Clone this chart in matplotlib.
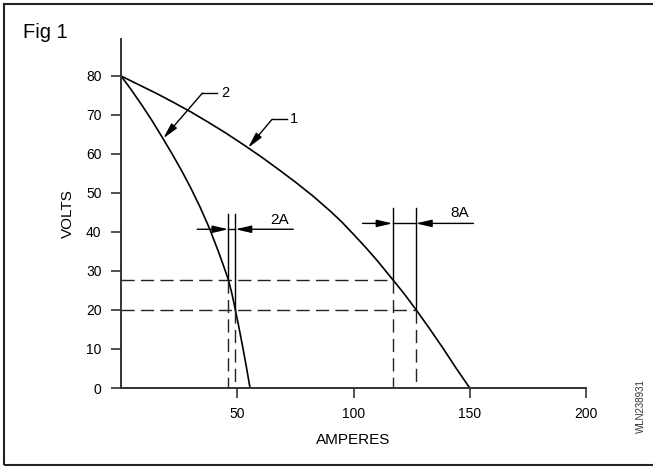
import matplotlib.pyplot as plt
from matplotlib.patches import Rectangle

plt.rcParams['font.family'] = ['Liberation Sans', 'DejaVu Sans']

# curve 1 (gentle droop) and curve 2 (steep droop)
amps_1 = [0, 7.5, 15, 22.5, 30, 37.5, 45, 52.5, 60, 67.5, 75, 82.5, 90, 95,
          100, 105, 110, 117, 122, 127, 132.5, 138.5, 144, 150]
volts_1 = [80, 77.8, 75.6, 73.25, 70.8, 68.15, 65.4, 62.45, 59.4, 56.15, 52.8,
           49.25, 45.35, 42.55, 39.4, 36.2, 32.8, 27.7, 24, 20, 15.4, 10.2,
           5.2, 0]
amps_2 = [0, 4, 9, 13.5, 18, 22, 26, 30, 34, 38, 42, 44, 46.2, 47.7, 49.2,
          50.7, 52.2, 53.9, 55.5]
volts_2 = [80, 76.8, 72.5, 68.4, 64, 60, 55.8, 51.3, 46.4, 41, 34.8, 31.5,
           27.7, 24.2, 20, 15.6, 11, 5.5, 0]

# operating voltages (dashed) and the current pairs they give
v_levels = [27.7, 20]
pair_2 = [46.2, 49.2]
pair_1 = [116.8, 126.8]
pair_tops = [44.6, 46.1]
dim_y = [40.7, 42.2]
dim_ends = [(32.8, 74.1), (103.9, 151.6)]
dim_labels = ['2A', '8A']
dim_label_pos = [(68.0, 43.1), (145.6, 44.9)]

# curve labels: (text, tip on curve, elbow, end of shelf, text x)
curve_tags = [('1', (54.7, 61.6), (65.0, 68.9), (71.2, 68.9), 72.8),
              ('2', (18.2, 64.0), (35.0, 75.6), (41.4, 75.6), 43.0)]

x_ticks = [50, 100, 150, 200]
y_ticks = [0, 10, 20, 30, 40, 50, 60, 70, 80]

fig = plt.figure(figsize=(6.53, 4.66), dpi=100)
ax = fig.add_axes([121 / 653, 78 / 466, 465 / 653, 348.7 / 466])

ax.plot(amps_1, volts_1, color='black', lw=1.2)
ax.plot(amps_2, volts_2, color='black', lw=1.2)

dash = dict(color='#222222', lw=1.0, dashes=(9.5, 4.5))
solid = dict(color='black', lw=1.0)

# horizontal dashed levels run from the axis to the curve-1 lines
ax.plot([0, pair_1[0]], [v_levels[0], v_levels[0]], **dash)
ax.plot([0, pair_1[1]], [v_levels[1], v_levels[1]], **dash)

for pair, top in zip([pair_2, pair_1], pair_tops):
    for xv, lv in zip(pair, v_levels):
        ax.plot([xv, xv], [top, lv], **solid)
        ax.plot([xv, xv], [lv, 0], **dash)

arrow = dict(arrowstyle='-|>,head_length=0.95,head_width=0.22', color='black',
             lw=1.0, shrinkA=0, shrinkB=0, mutation_scale=10)
for pair, y, (x0, x1), lab, (lx, ly) in zip([pair_2, pair_1], dim_y, dim_ends,
                                            dim_labels, dim_label_pos):
    ax.plot([pair[0], pair[1]], [y, y], **solid)
    ax.annotate('', xy=(pair[0], y), xytext=(x0, y), arrowprops=arrow)
    ax.annotate('', xy=(pair[1], y), xytext=(x1, y), arrowprops=arrow)
    ax.text(lx, ly, lab, fontsize=11, ha='center', va='center')

for txt, tip, elbow, shelf, tx in curve_tags:
    ax.plot([elbow[0], shelf[0]], [elbow[1], shelf[1]], **solid)
    ax.annotate('', xy=tip, xytext=elbow, arrowprops=arrow)
    ax.text(tx, shelf[1], txt, fontsize=10.5, ha='left', va='center')

ax.set_xlim(0, 200)
ax.set_ylim(0, 89.4)
ax.set_xticks(x_ticks)
ax.set_yticks(y_ticks)
ax.tick_params(axis='both', direction='out', length=7, width=1.2,
               color='#333333', labelsize=10, pad=7)
for side in ['top', 'right']:
    ax.spines[side].set_visible(False)
for side in ['left', 'bottom']:
    ax.spines[side].set_color('#333333')
    ax.spines[side].set_linewidth(1.4)

ax.set_xlabel('AMPERES', fontsize=11, labelpad=8)
ax.set_ylabel('VOLTS', fontsize=11, labelpad=8)

fig.text(23 / 653, 1 - 38 / 466, 'Fig 1', fontsize=14.5, ha='left', va='baseline')
fig.text(641 / 653, 1 - 406 / 466, 'WLN238931', fontsize=7, rotation=90,
         ha='center', va='center', color='#333333')

fig.add_artist(Rectangle((4 / 653, 1 / 466), 660 / 653, 461 / 466,
                         transform=fig.transFigure, fill=False,
                         edgecolor='#222222', lw=1.5))

fig.savefig('out.png', dpi=100)
